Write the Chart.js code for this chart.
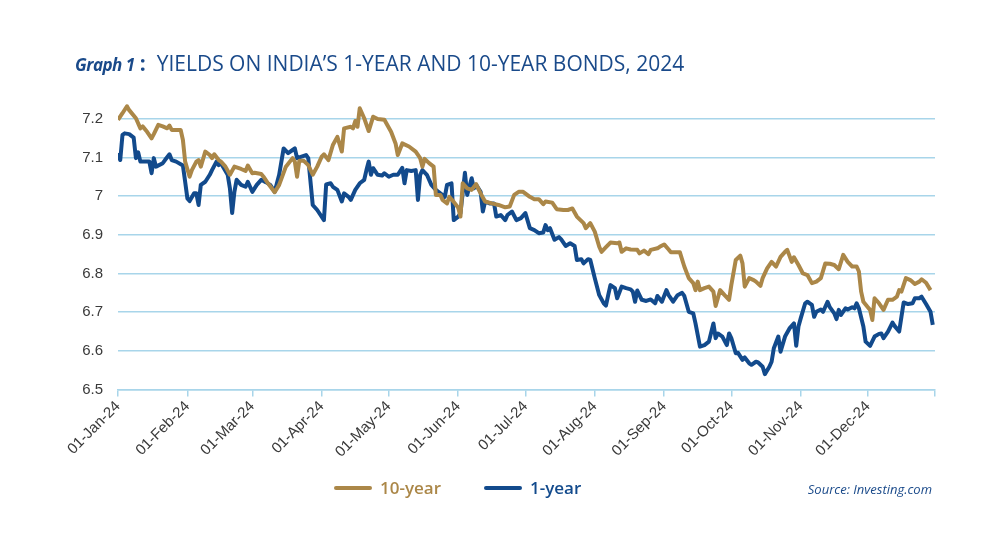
<!DOCTYPE html>
<html lang="en">
<head>
    <meta charset="UTF-8">
    <title>Yields on India's 1-year and 10-year bonds, 2024</title>
    <script src="https://cdn.jsdelivr.net/npm/chart.js"></script>
    <style>
        body { margin: 0; background: #fff; font-family: "Open Sans", Arial, sans-serif; }
        .page { position: relative; width: 1000px; height: 533px; overflow: hidden; }
        #grafico { position: absolute; left: 0; top: 0; }
        .titulo { position: absolute; left: 75px; top: 49px; color: #1a4a8a; white-space: nowrap; font-size: 21px; }
        .titulo .num { font-style: italic; font-weight: 700; font-size: 17px; letter-spacing: -0.5px; }
        .titulo .sep { font-weight: 700; margin: 0 11px 0 5px; }
        .titulo .txt { display: inline-block; transform: scaleX(1.0); transform-origin: left center; font-weight: 500; }
        .leyenda { position: absolute; top: 476px; left: 0; width: 1000px; height: 26px; }
        .item { position: absolute; top: 0; font-weight: 600; font-size: 17px; line-height: 24px; }
        .item .linea { position: absolute; top: 10px; width: 38px; height: 4px; border-radius: 2px; }
        .fuente { position: absolute; right: 68px; top: 480px; font-style: italic; font-size: 13px; color: #1a4a8a; }
    </style>
</head>
<body>
<div class="page">
    <canvas id="grafico" width="1000" height="533"></canvas>
    <div class="titulo"><span class="num">Graph 1</span><span class="sep">:</span><span class="txt">YIELDS ON INDIA&#8217;S 1-YEAR AND 10-YEAR BONDS, 2024</span></div>
    <div class="leyenda" id="leyenda"></div>
    <div class="fuente">Source: Investing.com</div>
</div>

<script>
    // nombres y colores de las series
    const seriesNames = ["10-year", "1-year"];
    const seriesColors = ["#ab8748", "#124a8c"];

    // eje x: dia del año (0 = 01-Jan-24)
    const tickDays = [0, 31, 60, 91, 121, 152, 182, 213, 244, 274, 305, 335];
    const tickLabels = ["01-Jan-24", "01-Feb-24", "01-Mar-24", "01-Apr-24", "01-May-24", "01-Jun-24",
        "01-Jul-24", "01-Aug-24", "01-Sep-24", "01-Oct-24", "01-Nov-24", "01-Dec-24"];
    const yTicks = [6.5, 6.6, 6.7, 6.8, 6.9, 7, 7.1, 7.2];
    const yTickLabels = ["6.5", "6.6", "6.7", "6.8", "6.9", "7", "7.1", "7.2"];

    // 10-year
    const days10 = [0,2,4,5,8,10,11,13,15,16,18,20,22,23,24,26,28,29,30,32,33,35,36,37,39,41,42,43,45,46,48,50,52,55,57,58,60,61,64,65,67,70,72,75,78,79,80,81,83,85,87,89,91,92,94,96,98,100,101,104,105,106,107,108,110,112,114,116,119,122,124,125,127,130,133,135,136,137,139,141,142,144,145,147,148,150,152,153,154,156,158,160,162,164,167,170,173,175,177,179,181,184,186,188,190,191,194,196,199,201,203,205,208,209,211,213,215,216,218,220,223,224,225,227,229,232,233,235,237,238,241,242,244,246,247,251,253,255,257,258,259,260,262,264,266,267,269,271,273,274,276,278,279,280,282,284,285,287,288,290,292,294,296,298,299,301,302,304,306,308,310,312,314,316,318,320,322,324,326,328,330,331,332,333,335,336,337,338,340,342,344,346,348,349,350,352,354,356,358,359,361,363];
    const yield10 = [7.197,7.214,7.232,7.222,7.201,7.175,7.18,7.166,7.149,7.16,7.184,7.18,7.175,7.182,7.171,7.171,7.171,7.145,7.089,7.05,7.067,7.089,7.093,7.076,7.115,7.106,7.098,7.108,7.093,7.089,7.076,7.055,7.076,7.07,7.065,7.079,7.059,7.06,7.057,7.05,7.033,7.01,7.029,7.076,7.098,7.089,7.05,7.091,7.091,7.08,7.055,7.076,7.102,7.108,7.093,7.132,7.153,7.115,7.175,7.179,7.175,7.194,7.179,7.227,7.201,7.168,7.205,7.199,7.197,7.166,7.136,7.106,7.136,7.128,7.115,7.098,7.076,7.096,7.085,7.076,7.003,7.003,6.99,6.981,6.998,6.985,6.97,6.947,7.033,7.02,7.016,7.031,7.007,6.986,6.981,6.977,6.971,6.973,7.003,7.011,7.011,6.998,6.992,6.992,6.979,6.986,6.983,6.966,6.964,6.964,6.968,6.947,6.93,6.917,6.93,6.908,6.869,6.856,6.868,6.88,6.878,6.88,6.856,6.865,6.862,6.861,6.852,6.859,6.85,6.861,6.865,6.869,6.875,6.862,6.855,6.855,6.818,6.788,6.775,6.757,6.779,6.757,6.762,6.766,6.753,6.716,6.757,6.744,6.732,6.77,6.835,6.846,6.826,6.766,6.788,6.783,6.779,6.768,6.788,6.813,6.83,6.818,6.843,6.856,6.861,6.83,6.842,6.822,6.8,6.796,6.775,6.779,6.788,6.826,6.825,6.822,6.811,6.848,6.83,6.818,6.818,6.805,6.753,6.727,6.713,6.706,6.68,6.736,6.723,6.706,6.732,6.732,6.74,6.757,6.753,6.788,6.783,6.773,6.779,6.785,6.776,6.757];

    // 1-year
    const days1 = [0,1,2,3,5,7,8,9,10,12,14,15,16,17,20,21,23,24,26,29,30,31,32,34,35,36,37,39,41,42,44,45,46,49,50,51,52,53,55,57,58,60,62,64,66,68,70,72,74,76,78,79,80,82,84,85,87,89,92,93,95,96,98,100,101,103,104,106,108,110,111,112,113,114,116,118,119,121,123,125,127,128,129,131,133,134,135,136,138,140,142,144,146,147,149,150,152,153,155,156,158,159,160,162,163,164,166,168,169,171,173,174,176,178,180,182,184,186,188,190,191,192,193,195,197,198,200,202,204,205,207,208,210,211,213,215,217,218,219,220,222,223,225,227,229,230,231,232,234,236,238,240,241,243,245,246,248,250,252,253,255,257,258,260,262,264,266,267,268,270,272,273,274,276,277,279,280,282,283,285,286,288,289,291,292,293,295,296,298,300,302,303,304,305,307,308,310,311,312,314,315,317,318,320,321,322,323,325,326,328,329,330,331,333,334,336,338,340,341,342,344,346,347,349,350,351,353,355,356,358,359,361,363,364];
    const yield1 = [7.111,7.093,7.158,7.162,7.16,7.151,7.098,7.113,7.089,7.089,7.089,7.059,7.098,7.076,7.085,7.093,7.108,7.093,7.089,7.079,7.037,6.994,6.987,7.007,7.007,6.977,7.029,7.037,7.055,7.067,7.089,7.08,7.085,7.055,7.02,6.956,7.011,7.042,7.029,7.024,7.037,7.011,7.029,7.042,7.036,7.029,7.011,7.055,7.123,7.111,7.119,7.123,7.098,7.102,7.106,7.098,6.977,6.964,6.938,7.03,7.033,7.024,7.016,6.986,7.007,6.998,6.99,7.016,7.033,7.042,7.067,7.089,7.055,7.072,7.055,7.053,7.059,7.05,7.055,7.055,7.073,7.033,7.067,7.065,7.067,6.99,7.055,7.067,7.055,7.029,7.016,7.007,6.998,7.029,7.033,6.938,6.947,6.956,7.06,7.003,7.046,7.02,7.029,7.011,6.96,6.986,6.981,6.981,6.947,6.951,6.938,6.951,6.96,6.938,6.943,6.956,6.917,6.912,6.904,6.906,6.925,6.912,6.917,6.887,6.894,6.888,6.871,6.878,6.871,6.835,6.837,6.826,6.837,6.835,6.788,6.744,6.723,6.717,6.744,6.77,6.762,6.736,6.766,6.762,6.759,6.753,6.727,6.756,6.732,6.729,6.733,6.723,6.742,6.727,6.757,6.744,6.727,6.744,6.75,6.742,6.701,6.697,6.671,6.611,6.615,6.624,6.671,6.633,6.645,6.637,6.615,6.645,6.633,6.594,6.595,6.577,6.583,6.568,6.564,6.572,6.57,6.559,6.54,6.559,6.572,6.607,6.637,6.598,6.637,6.658,6.671,6.613,6.663,6.684,6.723,6.727,6.719,6.688,6.701,6.707,6.701,6.727,6.713,6.697,6.682,6.706,6.693,6.71,6.707,6.713,6.71,6.723,6.71,6.663,6.624,6.613,6.637,6.644,6.645,6.633,6.65,6.673,6.664,6.65,6.688,6.725,6.721,6.723,6.736,6.736,6.74,6.721,6.701,6.667];

    const gridColor = "#a8d5ea";

    function puntos(dias, valores) {
        return dias.map((d, i) => ({ x: d, y: valores[i] }));
    }

    // leyenda en html
    const leyenda = document.getElementById("leyenda");
    const posLeyenda = [334, 484];
    seriesNames.forEach((nombre, i) => {
        const item = document.createElement("div");
        item.className = "item";
        item.style.left = posLeyenda[i] + "px";
        item.style.color = seriesColors[i];
        item.style.paddingLeft = "46px";
        item.innerHTML = `<span class="linea" style="left:0;background:${seriesColors[i]}"></span>${nombre}`;
        leyenda.appendChild(item);
    });

    const ctx = document.getElementById("grafico").getContext("2d");
    new Chart(ctx, {
        type: "line",
        data: {
            datasets: [
                {
                    label: seriesNames[0],
                    data: puntos(days10, yield10),
                    borderColor: seriesColors[0],
                    borderWidth: 4,
                    pointRadius: 0,
                    tension: 0,
                    borderJoinStyle: "round"
                },
                {
                    label: seriesNames[1],
                    data: puntos(days1, yield1),
                    borderColor: seriesColors[1],
                    borderWidth: 4,
                    pointRadius: 0,
                    tension: 0,
                    borderJoinStyle: "round"
                }
            ]
        },
        options: {
            responsive: false,
            animation: false,
            layout: { padding: { top: 99.3, right: 65, bottom: 0, left: 0 } },
            plugins: { legend: { display: false }, tooltip: { enabled: false } },
            scales: {
                x: {
                    type: "linear",
                    min: 0,
                    max: 365,
                    afterBuildTicks: (s) => { s.ticks = tickDays.concat([365]).map(v => ({ value: v })); },
                    afterFit: (s) => { s.height = 143.4; },
                    grid: { drawOnChartArea: false, drawTicks: true, tickLength: 7, color: gridColor, lineWidth: 1.5 },
                    border: { color: gridColor, width: 1.5 },
                    ticks: {
                        autoSkip: false,
                        minRotation: 45,
                        maxRotation: 45,
                        padding: 1,
                        color: "#3a3a3a",
                        font: { family: "Liberation Sans", size: 15 },
                        callback: (v, i) => tickLabels[i] || ""
                    }
                },
                y: {
                    min: 6.5,
                    max: 7.25,
                    afterBuildTicks: (s) => { s.ticks = yTicks.map(v => ({ value: v })); },
                    afterFit: (s) => { s.width = 118; },
                    grid: { color: gridColor, lineWidth: 1.5, drawTicks: false },
                    border: { display: false },
                    ticks: {
                        padding: 15,
                        color: "#3a3a3a",
                        font: { family: "Liberation Sans", size: 15 },
                        callback: (v, i) => yTickLabels[i]
                    }
                }
            }
        }
    });
</script>
</body>
</html>
